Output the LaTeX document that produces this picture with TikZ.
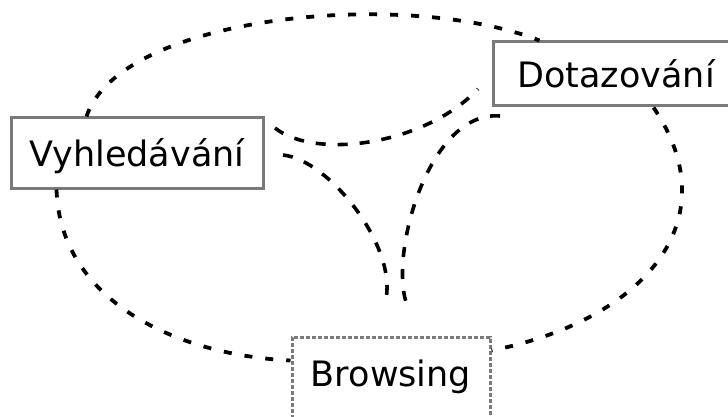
\documentclass[tikz,border=0pt]{standalone}
\usepackage{fontspec}
\setmainfont{DejaVu Sans}
\usepackage{tikz}

\begin{document}
\begin{tikzpicture}[x=1pt, y=-1pt,
        pojem/.style={draw=black!52, line width=3pt, fill=white, inner sep=0pt,
            text depth=0pt, font=\fontsize{35}{42}\selectfont},
        kruh/.style={line width=3.8pt, dash pattern=on 8pt off 13pt},
        spoj/.style={line width=3.6pt, dash pattern=on 10pt off 12pt}]
            \useasboundingbox (0,0) rectangle (728,417);
            \clip (0,0) rectangle (728,417);

            %% pojmy
            \node [pojem, minimum width=252pt, minimum height=70pt] (vyhl) at (137,153) {Vyhledávání};
            \node [pojem, minimum width=246pt, minimum height=64pt] (dotaz) at (616,74) {Dotazování};
            \node [pojem, dash pattern=on 4pt off 2pt, text height=14pt,
                minimum width=198pt, minimum height=84pt] (brow) at (391,379) {Browsing};

            %% vnejsi kruh
            \draw [kruh] ([xshift=77pt]vyhl.north west) .. controls (120,15) and (405,-12) .. ([xshift=48pt]dotaz.north west);
            \draw [kruh] ([xshift=162pt]dotaz.south west) .. controls (730,220) and (645,320) .. ([yshift=-15pt]brow.north east);
            \draw [kruh] ([xshift=47pt]vyhl.south west) .. controls (60,300) and (175,355) .. ([yshift=-25pt]brow.north west);

            %% vnitrni spoje
            \coordinate (v1) at (275,128);
            \coordinate (d1) at (478,89);
            \coordinate (v2) at (283,155);
            \coordinate (b1) at (385,303);
            \coordinate (d2) at (500,116);
            \coordinate (b2) at (406,302);
            \draw [spoj] (v1) .. controls (315,160) and (425,145) .. (d1);
            \draw [spoj] (v2) .. controls (330,160) and (400,250) .. (b1);
            \draw [spoj] (d2) .. controls (430,110) and (390,250) .. (b2);
        \end{tikzpicture}
\end{document}
